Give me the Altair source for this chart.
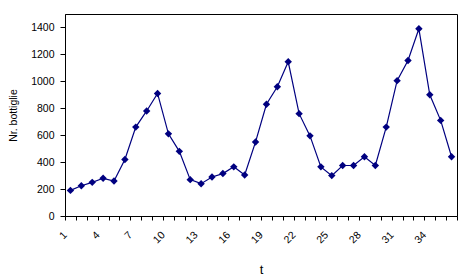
import altair as alt
import pandas as pd

t = list(range(1, 37))
bottiglie = [190, 225, 250, 280, 260, 420, 660, 780, 910, 610, 480, 270,
             240, 290, 315, 365, 305, 550, 830, 960, 1145, 760, 595, 365,
             300, 375, 375, 440, 375, 660, 1005, 1155, 1390, 900, 710, 440]

df = pd.DataFrame({"t": t, "v": bottiglie})

tick_vals = [i + 0.5 for i in range(0, 37)]
y_vals = [0, 200, 400, 600, 800, 1000, 1200, 1400]

FONT = "Liberation Sans"
NAVY = "#000080"

x_enc = alt.X("t:Q",
              scale=alt.Scale(domain=[0.5, 36.5], nice=False, zero=False),
              axis=alt.Axis(values=tick_vals,
                            labelExpr="(datum.value - 0.5) % 3 == 0 && datum.value < 36 ? format(datum.value + 0.5, 'd') : ''",
                            labelAngle=-45, labelAlign="right", labelBaseline="middle",
                            labelPadding=13, tickSize=4, grid=False,
                            title="t", titleFontSize=13, titleFontWeight="normal",
                            titleFont=FONT, titleY=57, titleBaseline="alphabetic",
                            labelFontSize=10.5, labelFont=FONT, labelOverlap=False,
                            domainColor="black", tickColor="black",
                            labelColor="black", titleColor="black"))
y_enc = alt.Y("v:Q",
              scale=alt.Scale(domain=[0, 1500], nice=False),
              axis=alt.Axis(values=y_vals, format="d", grid=False, tickSize=5, labelPadding=6,
                            title="Nr. bottiglie", titleFontSize=10.5,
                            titleFontWeight="normal", titleFont=FONT,
                            titleX=-47, titleY=101, titleAngle=-90,
                            titleAlign="center", titleBaseline="bottom",
                            labelFontSize=10.5, labelFont=FONT,
                            domainColor="black", tickColor="black",
                            labelColor="black", titleColor="black"))

line = alt.Chart(df).mark_line(color=NAVY, strokeWidth=1.2).encode(x=x_enc, y=y_enc)
pts = alt.Chart(df).mark_point(shape="diamond", filled=True, size=55,
                               color=NAVY, opacity=1).encode(x=x_enc, y=y_enc)

chart = (line + pts).properties(
    width=392, height=202,
    autosize=alt.AutoSizeParams(type="none"),
    padding={"left": 65, "top": 14, "right": 17, "bottom": 63},
    background="white",
).configure_view(stroke="black", strokeWidth=1)

chart.save("out.html", embed_options={"renderer": "svg", "actions": False})
